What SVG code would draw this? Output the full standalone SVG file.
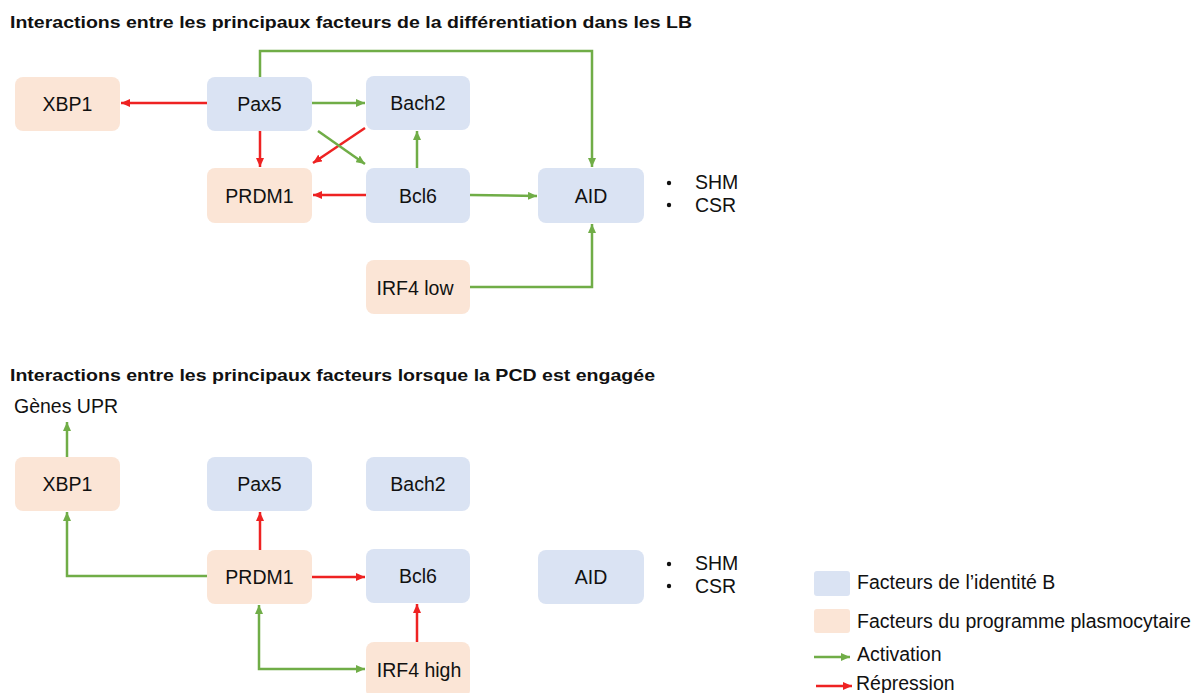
<svg xmlns="http://www.w3.org/2000/svg" width="1203" height="693" viewBox="0 0 1203 693">
<style>
text{font-family:"Liberation Sans",Arial,sans-serif;fill:#111}
.t{font-size:17px;font-weight:bold}
.n{font-size:19.5px;text-anchor:middle}
.l{font-size:19.5px}
.b{fill:#DAE3F3}
.p{fill:#FBE5D6}
.g{stroke:#70AD47;stroke-width:2.5;fill:none}
.r{stroke:#EE2222;stroke-width:2.5;fill:none}
</style>
<defs>
<marker id="ag" markerUnits="userSpaceOnUse" markerWidth="9" markerHeight="8" refX="9" refY="4" orient="auto"><path d="M0,0 L9,4 L0,8 z" fill="#70AD47"/></marker>
<marker id="ar" markerUnits="userSpaceOnUse" markerWidth="9" markerHeight="8" refX="9" refY="4" orient="auto"><path d="M0,0 L9,4 L0,8 z" fill="#EE2222"/></marker>
</defs>
<rect width="1203" height="693" fill="#fff"/>
<text class="t" x="10" y="28" textLength="682" lengthAdjust="spacingAndGlyphs">Interactions entre les principaux facteurs de la différentiation dans les LB</text>
<text class="t" x="10" y="381" textLength="645" lengthAdjust="spacingAndGlyphs">Interactions entre les principaux facteurs lorsque la PCD est engagée</text>

<g id="top-xbp1"><rect class="p" x="15" y="77" width="105" height="54" rx="8"/><text class="n" x="67.5" y="111">XBP1</text></g>
<g id="top-pax5"><rect class="b" x="207" y="77" width="105" height="54" rx="8"/><text class="n" x="259.5" y="111">Pax5</text></g>
<g id="top-bach2"><rect class="b" x="366" y="76" width="104" height="54" rx="8"/><text class="n" x="418" y="110">Bach2</text></g>
<g id="top-prdm1"><rect class="p" x="207" y="168" width="105" height="55" rx="8"/><text class="n" x="259.5" y="203">PRDM1</text></g>
<g id="top-bcl6"><rect class="b" x="366" y="168" width="104" height="55" rx="8"/><text class="n" x="418" y="203">Bcl6</text></g>
<g id="top-aid"><rect class="b" x="538" y="168" width="106" height="55" rx="8"/><text class="n" x="591" y="203">AID</text></g>
<g id="top-irf4"><rect class="p" x="366" y="260" width="104" height="54" rx="8"/><text class="n" x="415" y="295">IRF4 low</text></g>
<g id="top-out"><circle cx="669" cy="183" r="2.2" fill="#111"/><circle cx="669" cy="205" r="2.2" fill="#111"/><text class="l" x="695" y="189">SHM</text><text class="l" x="695" y="212">CSR</text></g>

<g id="bot-upr"><text class="l" x="14" y="413">Gènes UPR</text></g>
<g id="bot-xbp1"><rect class="p" x="15" y="457" width="105" height="54" rx="8"/><text class="n" x="67.5" y="491">XBP1</text></g>
<g id="bot-pax5"><rect class="b" x="207" y="457" width="105" height="54" rx="8"/><text class="n" x="259.5" y="491">Pax5</text></g>
<g id="bot-bach2"><rect class="b" x="366" y="457" width="104" height="54" rx="8"/><text class="n" x="418" y="491">Bach2</text></g>
<g id="bot-prdm1"><rect class="p" x="207" y="550" width="105" height="54" rx="8"/><text class="n" x="259.5" y="584">PRDM1</text></g>
<g id="bot-bcl6"><rect class="b" x="366" y="549" width="104" height="54" rx="8"/><text class="n" x="418" y="583">Bcl6</text></g>
<g id="bot-aid"><rect class="b" x="538" y="550" width="106" height="54" rx="8"/><text class="n" x="591" y="584">AID</text></g>
<g id="bot-irf4"><rect class="p" x="366" y="642" width="104" height="56" rx="8"/><text class="n" x="419" y="677">IRF4 high</text></g>
<g id="bot-out"><circle cx="669" cy="564" r="2.2" fill="#111"/><circle cx="669" cy="586" r="2.2" fill="#111"/><text class="l" x="695" y="570">SHM</text><text class="l" x="695" y="593">CSR</text></g>

<g id="legend">
<rect class="b" x="814" y="571" width="36" height="25" rx="3"/><text class="l" x="857" y="589">Facteurs de l’identité B</text>
<rect class="p" x="814" y="609" width="36" height="24" rx="3"/><text class="l" x="857" y="628">Facteurs du programme plasmocytaire</text>
<line class="g" x1="814" y1="657" x2="850" y2="657" marker-end="url(#ag)"/><text class="l" x="857" y="661">Activation</text>
<line class="r" x1="816" y1="686" x2="852" y2="686" marker-end="url(#ar)"/><text class="l" x="856" y="690">Répression</text>
</g>

<g id="connectors">
<line class="r" x1="207" y1="103" x2="121" y2="103" marker-end="url(#ar)"/>
<line class="g" x1="312" y1="103" x2="365" y2="103" marker-end="url(#ag)"/>
<line class="r" x1="260" y1="131" x2="260" y2="167" marker-end="url(#ar)"/>
<polyline class="g" points="260,77 260,51 592,51 592,167" marker-end="url(#ag)"/>
<line class="r" x1="365" y1="128" x2="313" y2="163" marker-end="url(#ar)"/>
<line class="g" x1="318" y1="131" x2="365" y2="164" marker-end="url(#ag)"/>
<line class="g" x1="417" y1="168" x2="417" y2="131" marker-end="url(#ag)"/>
<line class="r" x1="366" y1="195" x2="313" y2="195" marker-end="url(#ar)"/>
<line class="g" x1="470" y1="195" x2="537" y2="196" marker-end="url(#ag)"/>
<polyline class="g" points="470,287 592,287 592,224" marker-end="url(#ag)"/>

<line class="g" x1="67" y1="457" x2="67" y2="422" marker-end="url(#ag)"/>
<polyline class="g" points="207,576 67,576 67,512" marker-end="url(#ag)"/>
<line class="r" x1="260" y1="550" x2="260" y2="512" marker-end="url(#ar)"/>
<line class="r" x1="312" y1="577" x2="365" y2="577" marker-end="url(#ar)"/>
<line class="r" x1="417" y1="642" x2="417" y2="604" marker-end="url(#ar)"/>
<polyline class="g" points="259,614 259,669 365,669" marker-end="url(#ag)"/>
<line class="g" x1="259" y1="614" x2="259" y2="605" marker-end="url(#ag)"/>
</g>
</svg>
